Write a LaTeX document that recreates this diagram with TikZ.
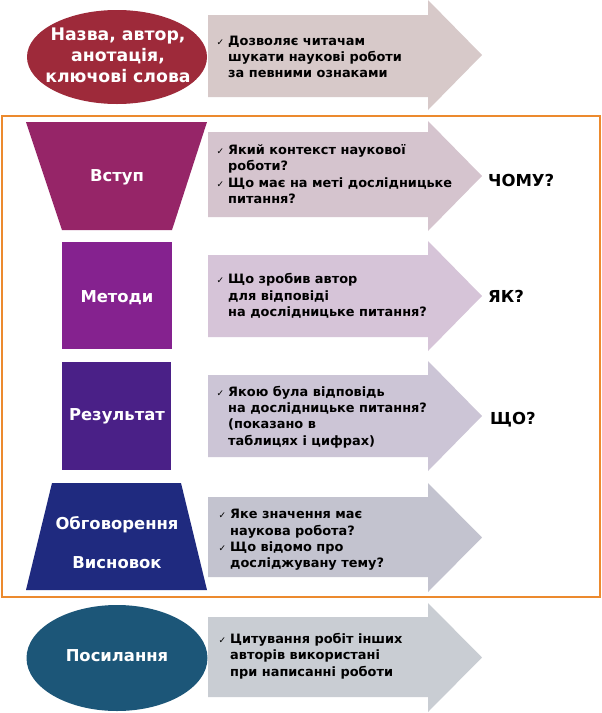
\documentclass[tikz,border=0pt]{standalone}
\usepackage{fontspec}
\setmainfont{DejaVu Sans}
\usetikzlibrary{shapes.geometric}
\definecolor{cTitle}{HTML}{9E2A3A}
\definecolor{cIntro}{HTML}{962568}
\definecolor{cMeth}{HTML}{85228F}
\definecolor{cRes}{HTML}{4A2087}
\definecolor{cDisc}{HTML}{1F2A7F}
\definecolor{cRef}{HTML}{1C5678}
\definecolor{aOne}{HTML}{D7C9C9}
\definecolor{aTwo}{HTML}{D5C4CE}
\definecolor{aThree}{HTML}{D6C4D8}
\definecolor{aFour}{HTML}{CCC5D6}
\definecolor{aFive}{HTML}{C3C3CF}
\definecolor{aSix}{HTML}{C9CDD3}
\definecolor{frameOrange}{HTML}{EC8A2E}
\newcommand\ck{\llap{{\fontsize{9}{9}\selectfont ✓}\hspace{4pt}}}
\newcommand\bigarrow[5]{%
  \fill[#5] (208,#1) -- (428,#1) -- (428,#3) -- (482,{(#3+#4)/2}) -- (428,#4) -- (428,#2) -- (208,#2) -- cycle;}
\begin{document}
\begin{tikzpicture}[x=1pt,y=-1pt,
  desc/.style={anchor=west, align=left, font=\bfseries\fontsize{12.9}{16.3}\selectfont, text=black, inner sep=0pt},
  boxlabel/.style={font=\bfseries\fontsize{16.4}{20}\selectfont, text=white, align=center, inner sep=0pt},
  qlabel/.style={font=\bfseries\fontsize{16.5}{20}\selectfont, text=black, anchor=west, inner sep=0pt}]
\useasboundingbox (0,0) rectangle (602,713);
\fill[white] (0,0) rectangle (602,713);

% row 1
\bigarrow{15}{97}{0}{110}{aOne}
\node[ellipse, fill=cTitle, minimum width=180, minimum height=94, inner sep=0pt] (title) at (117,57) {};
\node[boxlabel, font=\bfseries\fontsize{17.3}{21}\selectfont] (titletext) at (118,55) {Назва, автор,\\анотація,\\ключові слова};
\node[desc] (t1) at (228,57) {\ck Дозволяє читачам\\шукати наукові роботи\\за певними ознаками};

% frame
\draw[frameOrange, line width=1.5pt] (2,116) rectangle (600,597);

% row 2
\bigarrow{132}{217}{121}{231}{aTwo}
\fill[cIntro] (26,122) -- (207,122) -- (172,230) -- (62,230) -- cycle;
\node[boxlabel] (intro) at (117,177) {Вступ};
\node[desc] (t2) at (228,174) {\ck Який контекст наукової\\роботи?\\\ck Що має на меті дослідницьке\\питання?};
\node[qlabel] (q2) at (488,180) {ЧОМУ?};

% row 3
\bigarrow{255}{337}{241}{351}{aThree}
\fill[cMeth] (62,242) rectangle (172,349);
\node[boxlabel] (meth) at (117,298) {Методи};
\node[desc] (t3) at (228,296) {\ck Що зробив автор\\для відповіді\\на дослідницьке питання?};
\node[qlabel] (q3) at (488,296) {ЯК?};

% row 4
\bigarrow{375}{457}{361}{471}{aFour}
\fill[cRes] (62,362) rectangle (171,470);
\node[boxlabel] (res) at (117,416) {Результат};
\node[desc] (t4) at (228,417) {\ck Якою була відповідь\\на дослідницьке питання?\\(показано в\\таблицях і цифрах)};
\node[qlabel] (q4) at (490,420) {ЩО?};

% row 5
\bigarrow{497}{577}{483}{592}{aFive}
\fill[cDisc] (52,483) -- (181,483) -- (207,590) -- (26,590) -- cycle;
\node[boxlabel] (disc) at (117,525) {Обговорення};
\node[boxlabel] (concl) at (117,563) {Висновок};
\node[desc] (t5) at (230,540) {\ck Яке значення має\\наукова робота?\\\ck Що відомо про\\досліджувану тему?};

% row 6
\bigarrow{617}{697}{603}{712}{aSix}
\node[ellipse, fill=cRef, minimum width=181, minimum height=106, inner sep=0pt] (ref) at (117,658) {};
\node[boxlabel] (reftext) at (117,656) {Посилання};
\node[desc] (t6) at (230,656) {\ck Цитування робіт інших\\авторів використані\\при написанні роботи};
\end{tikzpicture}
\end{document}
